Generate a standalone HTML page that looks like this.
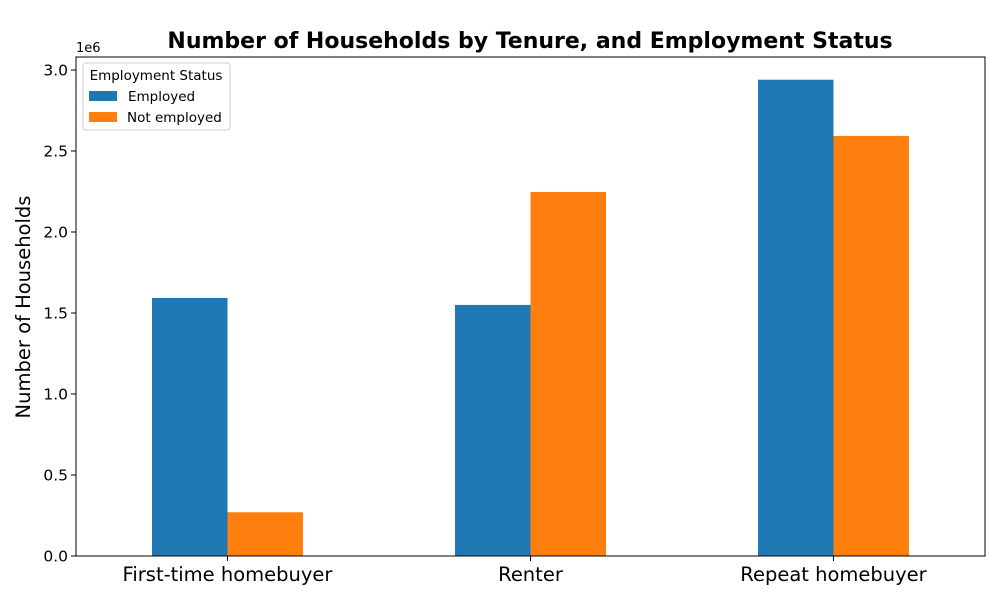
<!DOCTYPE html>
<html><head><meta charset="utf-8"><style>
body{margin:0;background:#fff;font-family:"Liberation Sans","DejaVu Sans",sans-serif}
</style></head><body>
<svg id="chart" width="1000" height="600" xmlns="http://www.w3.org/2000/svg" font-family="DejaVu Sans, Liberation Sans, sans-serif">
<text x="530" y="48" text-anchor="middle" font-size="22" font-weight="bold">Number of Households by Tenure, and Employment Status</text>
<g id="bars"></g>
<rect x="76" y="57" width="909" height="499" fill="none" stroke="#000" stroke-width="1"/>
<g id="yticks"></g>
<g id="xticks"></g>
<text x="76" y="52" font-size="13">1e6</text>
<text transform="translate(30,307) rotate(-90)" text-anchor="middle" font-size="19.5">Number of Households</text>
<g>
<rect x="83" y="63" width="147" height="67" fill="#fff" stroke="#ccc" rx="3"/>
<text x="156" y="80" text-anchor="middle" font-size="13.5">Employment Status</text>
<rect x="89" y="91" width="28" height="10" fill="#1f77b4"/>
<text x="128" y="101" font-size="13.5">Employed</text>
<rect x="89" y="112" width="28" height="10" fill="#ff7f0e"/>
<text x="127" y="122" font-size="13.5">Not employed</text>
</g>
</svg>
<script>
const categories=["First-time homebuyer","Renter","Repeat homebuyer"];
const employed=[1.593,1.55,2.94];
const notEmployed=[0.27,2.247,2.593];
const yTicks=[0,0.5,1.0,1.5,2.0,2.5,3.0];
const NS="http://www.w3.org/2000/svg";
const x0=76,plotW=909,y0=556,pxPerUnit=162;
const xc=i=>x0+(i+0.5)*plotW/categories.length;
const y=v=>y0-v*pxPerUnit;
const bars=document.getElementById('bars');
const bw=75.5;
function mk(tag,attrs,parent){const e=document.createElementNS(NS,tag);for(const k in attrs)e.setAttribute(k,attrs[k]);parent.appendChild(e);return e;}
categories.forEach((c,i)=>{
 let r=mk('rect',{x:xc(i)-bw,y:y(employed[i]),width:bw,height:y0-y(employed[i]),fill:'#1f77b4'},bars);
 
 
 let r2=mk('rect',{x:xc(i),y:y(notEmployed[i]),width:bw,height:y0-y(notEmployed[i]),fill:'#ff7f0e'},bars);
 
 
 const xt=document.getElementById('xticks');
 mk('line',{x1:xc(i),x2:xc(i),y1:y0,y2:y0+5,stroke:'#000'},xt);
 let t=mk('text',{x:xc(i),y:y0+25,'text-anchor':'middle','font-size':'19.5'},xt);
 t.textContent=c;
 
 
});
const yt=document.getElementById('yticks');
yTicks.forEach(v=>{
 mk('line',{x1:x0-5,x2:x0,y1:y(v),y2:y(v),stroke:'#000'},yt);
 let t=mk('text',{x:x0-8,y:y(v)+5.5,'text-anchor':'end','font-size':'15.5'},yt);
 t.textContent=v.toFixed(1);
 
 
});
</script>
</body></html>
